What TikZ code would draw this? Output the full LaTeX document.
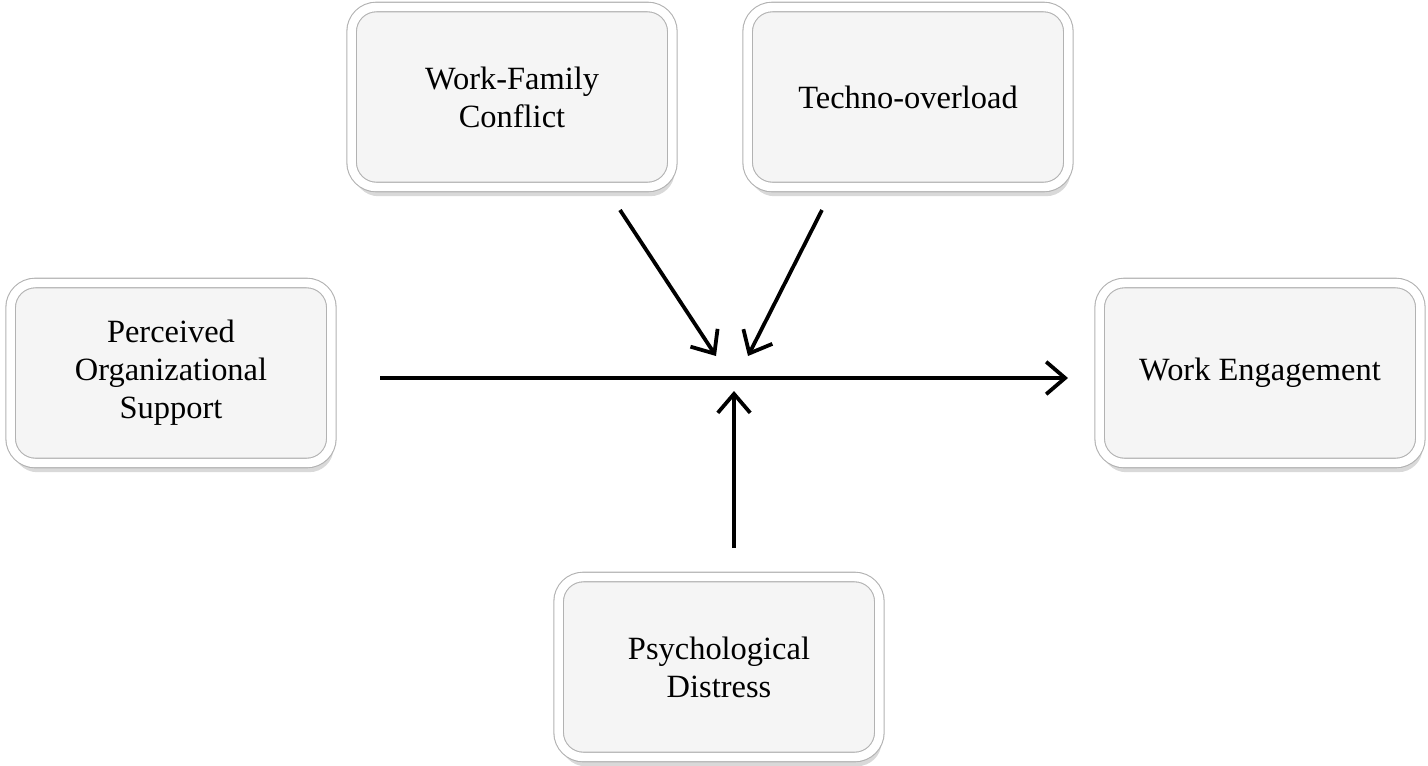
\documentclass[tikz,border=0pt]{standalone}
\usepackage{fontspec}
\setmainfont{Liberation Serif}
\usepackage{tikz}
\usetikzlibrary{arrows.meta,shadows}
\usetikzlibrary{positioning}

\tikzset{
  varbox/.style={rectangle,rounded corners=0.32cm,draw=black!30,double=white,double distance=0.11cm,
    fill=black!4,minimum width=4.17cm,minimum height=2.34cm,align=center,
    drop shadow={opacity=0.3,shadow xshift=0.03cm,shadow yshift=-0.12cm},
    font=\fontsize{12}{14}\selectfont},
  effect/.style={line width=1.4pt,-{Straight Barb[length=7pt,width=12pt,line width=1.4pt]}}
}

\begin{document}
\begin{tikzpicture}[x=0.013cm,y=-0.013cm]
\useasboundingbox (0,0) rectangle (1428,765);
\node at (512,97)[varbox](wfc){Work-Family\\Conflict};
\node at (908,97)[varbox](tech){Techno-overload};
\node at (171,373)[varbox](pos){Perceived\\Organizational\\Support};
\node at (1260,373)[varbox](we){Work Engagement};
\node at (719,667)[varbox](pd){Psychological\\Distress};
% arrow end points
\coordinate (posout) at (380,378);
\coordinate (wein) at (1068,378);
\coordinate (wfcout) at (620,210);
\coordinate (wfcin) at (716,356);
\coordinate (techout) at (822,210);
\coordinate (techin) at (748,356);
\coordinate (pdout) at (734,548);
\coordinate (pdin) at (734,391);
\draw[effect] (posout) -- (wein);
\draw[effect] (wfcout) -- (wfcin);
\draw[effect] (techout) -- (techin);
\draw[effect] (pdout) -- (pdin);
\end{tikzpicture}
\end{document}
